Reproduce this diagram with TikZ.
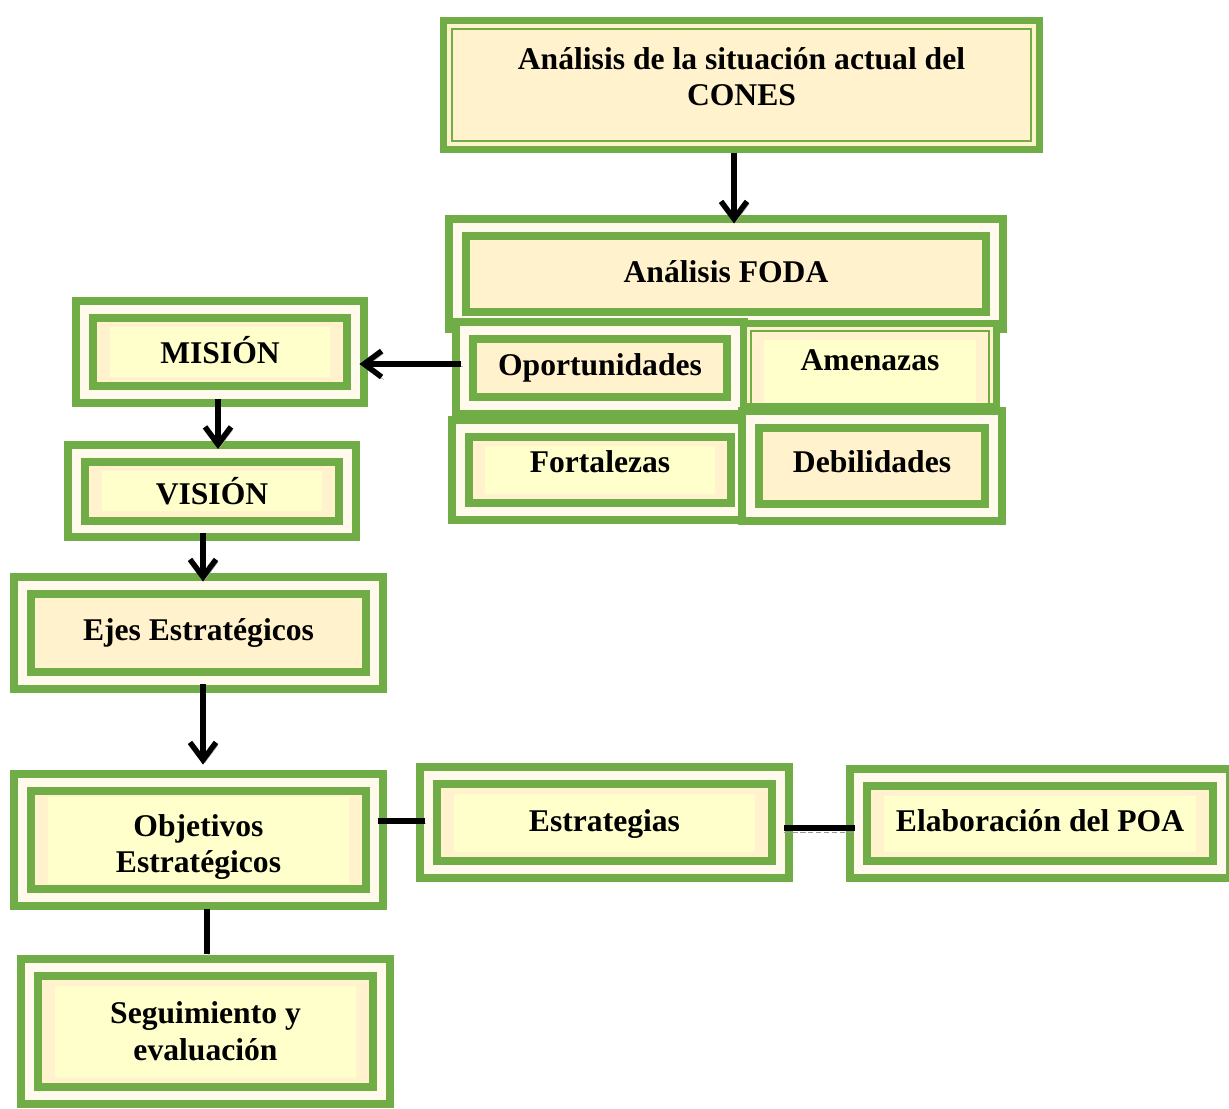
\documentclass[tikz,border=0pt]{standalone}
\usepackage{fontspec}
\setmainfont{Liberation Serif}
\usetikzlibrary{positioning,calc,arrows.meta}
\definecolor{verde}{HTML}{70AD47}
\definecolor{crema}{HTML}{FFF2CC}
\definecolor{amarillo}{HTML}{FFFFCC}

\begin{document}
\begin{tikzpicture}[
    x=0.02cm, y=-0.02cm,
    caja/.style={draw=verde, line width=0.16cm, double=crema!40!white, double distance=0.18cm, fill=crema, align=center, inner sep=0pt, font=\fontsize{18}{21}\selectfont\bfseries},
    marco/.style={draw=verde, line width=0.14cm, fill=crema, align=center, inner sep=0pt, font=\fontsize{18}{21}\selectfont\bfseries,
        path picture={\draw[verde, line width=0.04cm] ([shift={(0.17cm,-0.17cm)}]path picture bounding box.north west) rectangle ([shift={(-0.17cm,0.17cm)}]path picture bounding box.south east);}},
    resalte/.style args={#1/#2}{path picture={\fill[amarillo] ([shift={(#1,-#2)}]path picture bounding box.north west) rectangle ([shift={(-#1,#2)}]path picture bounding box.south east);}},
    resalte/.default=0.5cm/0.36cm,
    subir/.style={text depth=#1},
    flecha/.style={line width=0.11cm, -{Straight Barb[length=0.35cm, width=0.52cm]}, preaction={draw=gray!60, transform canvas={shift={(0.04cm,-0.05cm)}}}},
    linea/.style={line width=0.11cm, preaction={draw=gray!60, transform canvas={shift={(0.03cm,-0.05cm)}}}},
    punteada/.style={preaction={draw=gray!80, dash pattern=on 3pt off 1.5pt, transform canvas={shift={(0cm,-0.08cm)}}}}
]
    \useasboundingbox (0,0) rectangle (1229,1108);

    % parte superior
    \node [marco, subir=0.34cm, minimum width=11.92cm, minimum height=2.58cm] (sit) at (741.5,85) {Análisis de la situación actual del\\CONES};
    \node [caja, subir=0.08cm, minimum width=10.74cm, minimum height=1.86cm] (foda) at (726,274) {Análisis FODA};
    \node [caja, minimum width=5.42cm, minimum height=1.5cm] (opor) at (600,368) {Oportunidades};
    \node [marco, subir=0.2cm, minimum width=5.06cm, minimum height=1.66cm,
        path picture={\draw[verde, line width=0.04cm] ([shift={(0.14cm,-0.14cm)}]path picture bounding box.north west) rectangle ([shift={(-0.14cm,0.03cm)}]path picture bounding box.south east);
            \fill[amarillo] ([shift={(0.4cm,-0.33cm)}]path picture bounding box.north west) rectangle ([shift={(-0.4cm,0.07cm)}]path picture bounding box.south east);}] (amen) at (870,365) {Amenazas};
    \node [caja, resalte, subir=0.32cm, minimum width=5.6cm, minimum height=1.68cm] (fort) at (600,470) {Fortalezas};
    \node [caja, subir=0.16cm, minimum width=4.88cm, minimum height=1.88cm] (debi) at (872,466) {Debilidades};

    % columna izquierda
    \node [caja, resalte, subir=0.1cm, minimum width=5.42cm, minimum height=1.72cm] (mision) at (220,352) {MISIÓN};
    \node [caja, resalte, minimum width=5.42cm, minimum height=1.52cm] (vision) at (212,491) {VISIÓN};
    \node [caja, minimum width=7.04cm, minimum height=1.9cm] (ejes) at (198.5,633) {Ejes Estratégicos};
    \node [caja, resalte=0.5cm/0.28cm, minimum width=7.04cm, minimum height=2.3cm] (obj) at (198.5,840) {\rule{0pt}{0.72cm}Objetivos\\Estratégicos};
    \node [caja, resalte, minimum width=7.04cm, minimum height=2.56cm] (seg) at (205.5,1031.5) {Seguimiento y\\evaluación};

    % fila inferior
    \node [caja, resalte, subir=0.06cm, minimum width=7.04cm, minimum height=1.88cm] (estr) at (604.5,822.5) {Estrategias};
    \node [caja, resalte, subir=0.12cm, minimum width=7.26cm, minimum height=1.84cm] (poa) at (1040,823.5) {Elaboración del POA};

    % conectores
    \draw [flecha] ([xshift=-0.15cm]sit.south) -- ([xshift=-0.15cm]sit.south |- foda.north);
    \draw [flecha] (opor.west |- 0,364) -- (mision.east |- 0,364);
    \draw [flecha] (mision.south -| 218,0) -- (vision.north -| 218,0);
    \draw [flecha] (vision.south -| 203,0) -- (ejes.north -| 203,0);
    \draw [flecha, shorten >=0.28cm] (ejes.south -| 203,0) -- (obj.north -| 203,0);
    \draw [linea, shorten <=0.15cm, shorten >=0.2cm] (obj.south -| 207,0) -- (seg.north -| 207,0);
    \draw [linea] (obj.east |- 0,821) -- (estr.west |- 0,821);
    \draw [line width=0.11cm, punteada] (estr.east |- 0,828) -- (poa.west |- 0,828);
\end{tikzpicture}
\end{document}
